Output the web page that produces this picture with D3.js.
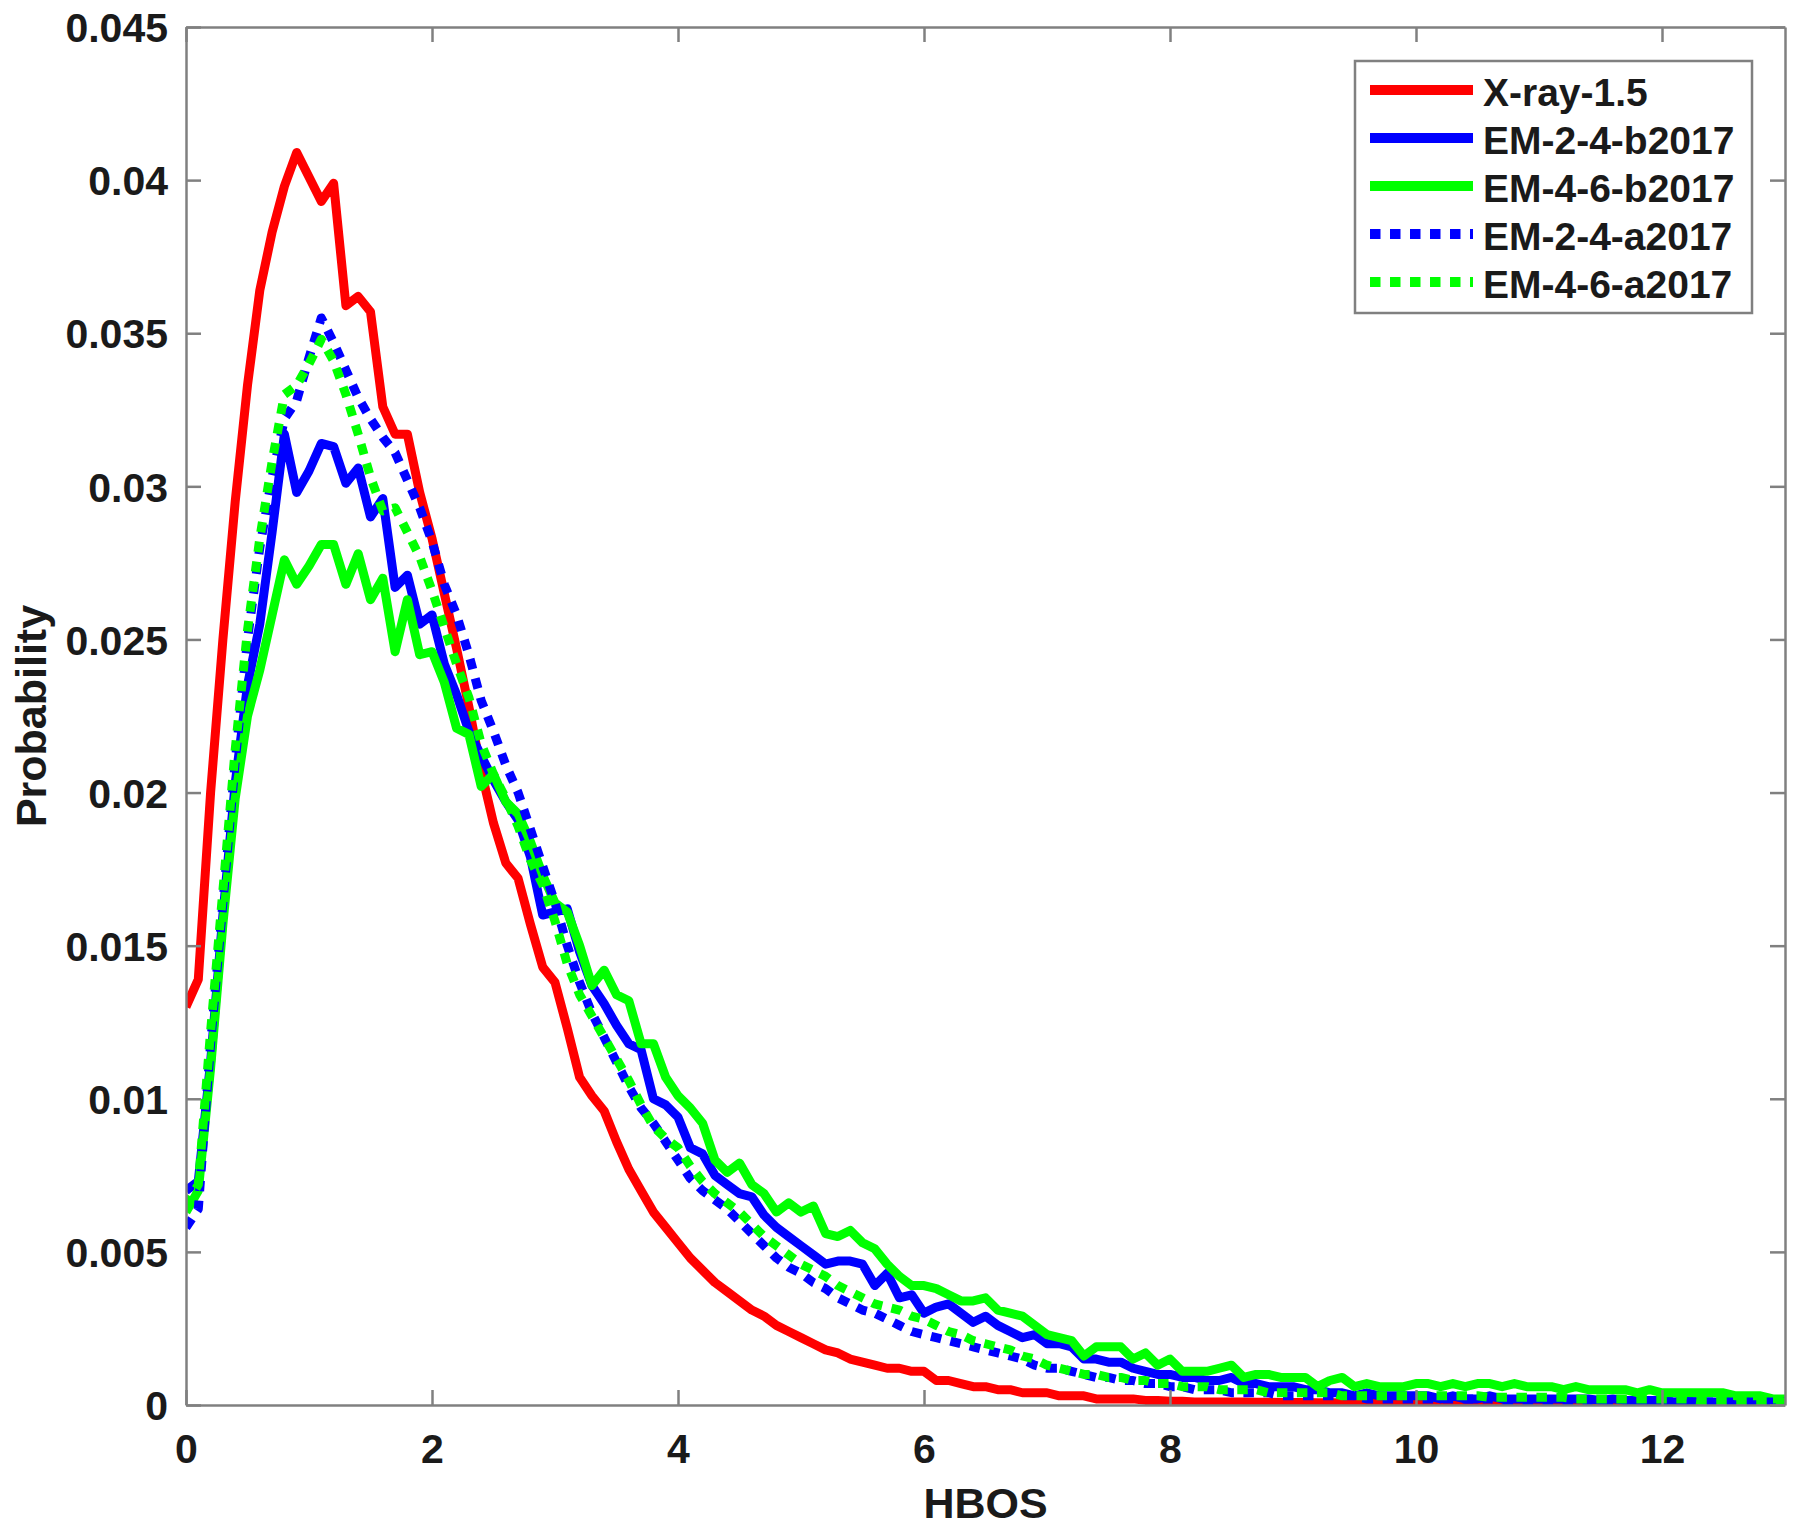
<!DOCTYPE html>
<html>
<head>
<meta charset="utf-8">
<script src="https://cdn.jsdelivr.net/npm/d3@7"></script>
<style>
  html, body { margin: 0; padding: 0; background: #fff; }
  svg text { font-family: "Liberation Sans", Arial, Helvetica, sans-serif; font-weight: bold; fill: #1a1a1a; }
</style>
</head>
<body>
<svg id="chart" width="1800" height="1533"></svg>
<script>
// histogram bins are 0.1 wide, from 0 to 13
const binWidth = 0.1;

const xray15 = [
  0.0130, 0.0139, 0.0200, 0.0250, 0.0295, 0.0333, 0.0364, 0.0383, 0.0398, 0.0409,
  0.0401, 0.0393, 0.0399, 0.0359, 0.0362, 0.0357, 0.0326, 0.0317, 0.0317, 0.0298,
  0.0283, 0.0265, 0.0247, 0.0228, 0.0207, 0.0190, 0.0177, 0.0172, 0.0157, 0.0143,
  0.0138, 0.0123, 0.0107, 0.0101, 0.0096, 0.0086, 0.0077, 0.0070, 0.0063, 0.0058,
  0.0053, 0.0048, 0.0044, 0.0040, 0.0037, 0.0034, 0.0031, 0.0029, 0.0026, 0.0024,
  0.0022, 0.0020, 0.0018, 0.0017, 0.0015, 0.0014, 0.0013, 0.0012, 0.0012, 0.0011,
  0.0011, 0.0008, 0.0008, 0.0007, 0.0006, 0.0006, 0.0005, 0.0005, 0.0004, 0.0004,
  0.0004, 0.0003, 0.0003, 0.0003, 0.0002, 0.0002, 0.0002, 0.0002, 0.00015, 0.00015,
  0.00012, 0.00012, 0.0001, 0.0001, 0.0001, 0.0001, 0.0001, 0.00009, 0.00009, 0.00008,
  0.00008, 0.00008, 0.00007, 0.00007, 0.00007, 0.00006, 0.00006, 0.00006, 0.00006, 0.00005,
  0.00005, 0.00005, 0.00005, 0.00005, 0.00004, 0.00005, 0.00004, 0.00004, 0.00004, 0.00004,
  0.00004, 0.00004, 0.00003, 0.00004, 0.00003, 0.00003, 0.00003, 0.00003, 0.00003, 0.00003,
  0.00003, 0.00002, 0.00003, 0.00002, 0.00002, 0.00002, 0.00002, 0.00002, 0.00002, 0.00002,
  0.00002
];

const em24b = [
  0.0070, 0.0073, 0.0112, 0.0160, 0.0203, 0.0235, 0.0255, 0.0285, 0.0317, 0.0298,
  0.0305, 0.0314, 0.0313, 0.0301, 0.0306, 0.0290, 0.0296, 0.0267, 0.0271, 0.0255,
  0.0258, 0.0242, 0.0232, 0.0220, 0.0212, 0.0204, 0.0197, 0.0191, 0.0179, 0.0160,
  0.0161, 0.0162, 0.0148, 0.0137, 0.0131, 0.0124, 0.0118, 0.0116, 0.0100, 0.0098,
  0.0094, 0.0084, 0.0082, 0.0075, 0.0072, 0.0069, 0.0068, 0.0062, 0.0058, 0.0055,
  0.0052, 0.0049, 0.0046, 0.0047, 0.0047, 0.0046, 0.0039, 0.0043, 0.0035, 0.0036,
  0.0030, 0.0032, 0.0033, 0.0030, 0.0027, 0.0029, 0.0026, 0.0024, 0.0022, 0.0023,
  0.0020, 0.0020, 0.0019, 0.0015, 0.0015, 0.0014, 0.0014, 0.0012, 0.0011, 0.0010,
  0.0010, 0.0009, 0.0009, 0.0008, 0.0008, 0.0009, 0.0007, 0.0007, 0.0006, 0.0006,
  0.0006, 0.0005, 0.0005, 0.0004, 0.0004, 0.0003, 0.0004, 0.0003, 0.0003, 0.0003,
  0.0003, 0.0003, 0.0002, 0.0003, 0.0002, 0.0002, 0.0003, 0.0002, 0.0002, 0.0002,
  0.0002, 0.0002, 0.0002, 0.0002, 0.0002, 0.00015, 0.0002, 0.00015, 0.00015, 0.00015,
  0.00015, 0.0001, 0.00015, 0.0001, 0.0001, 0.0001, 0.0001, 0.0001, 0.0001, 0.0001,
  0.0001
];

const em46b = [
  0.0063, 0.0070, 0.0110, 0.0157, 0.0198, 0.0225, 0.0240, 0.0258, 0.0276, 0.0268,
  0.0274, 0.0281, 0.0281, 0.0268, 0.0278, 0.0263, 0.0270, 0.0246, 0.0263, 0.0245,
  0.0246, 0.0236, 0.0221, 0.0219, 0.0202, 0.0206, 0.0197, 0.0193, 0.0184, 0.0173,
  0.0164, 0.0161, 0.0150, 0.0137, 0.0142, 0.0134, 0.0132, 0.0118, 0.0118, 0.0107,
  0.0101, 0.0097, 0.0092, 0.0080, 0.0076, 0.0079, 0.0072, 0.0069, 0.0063, 0.0066,
  0.0063, 0.0065, 0.0056, 0.0055, 0.0057, 0.0053, 0.0051, 0.0046, 0.0042, 0.0039,
  0.0039, 0.0038, 0.0036, 0.0034, 0.0034, 0.0035, 0.0031, 0.0030, 0.0029, 0.0026,
  0.0023, 0.0022, 0.0021, 0.0016, 0.0019, 0.0019, 0.0019, 0.0015, 0.0017, 0.0013,
  0.0015, 0.0011, 0.0011, 0.0011, 0.0012, 0.0013, 0.0009, 0.0010, 0.0010, 0.0009,
  0.0009, 0.0009, 0.0006, 0.0008, 0.0009, 0.0006, 0.0007, 0.0006, 0.0006, 0.0006,
  0.0007, 0.0007, 0.0006, 0.0007, 0.0006, 0.0007, 0.0007, 0.0006, 0.0007, 0.0006,
  0.0006, 0.0006, 0.0005, 0.0006, 0.0005, 0.0005, 0.0005, 0.0005, 0.0004, 0.0005,
  0.0004, 0.0004, 0.0004, 0.0004, 0.0004, 0.0004, 0.0003, 0.0003, 0.0003, 0.0002,
  0.0002
];

const em24a = [
  0.0058, 0.0064, 0.0118, 0.0164, 0.0210, 0.0250, 0.0280, 0.0303, 0.0322, 0.0328,
  0.0342, 0.0355, 0.0347, 0.0338, 0.0329, 0.0322, 0.0316, 0.0311, 0.0302, 0.0293,
  0.0282, 0.0268, 0.0258, 0.0245, 0.0230, 0.0220, 0.0209, 0.0200, 0.0188, 0.0176,
  0.0164, 0.0150, 0.0138, 0.0128, 0.0120, 0.0112, 0.0104, 0.0097, 0.0092, 0.0086,
  0.0080, 0.0074, 0.0070, 0.0067, 0.0064, 0.0060, 0.0056, 0.0052, 0.0048, 0.0045,
  0.0043, 0.0040, 0.0038, 0.0035, 0.0033, 0.0031, 0.0030, 0.0028, 0.0026, 0.0024,
  0.0023, 0.0022, 0.0021, 0.0020, 0.0019, 0.0018, 0.0017, 0.0016, 0.0015, 0.0013,
  0.0012, 0.0012, 0.0011, 0.0010, 0.0009, 0.0009, 0.0008, 0.0008, 0.0007, 0.0007,
  0.0006, 0.0006, 0.0005, 0.0005, 0.0005, 0.0004, 0.0004, 0.0004, 0.0004, 0.0003,
  0.0003, 0.0003, 0.0003, 0.0003, 0.0003, 0.0003, 0.0002, 0.0002, 0.0002, 0.0002,
  0.0002, 0.0002, 0.0002, 0.0002, 0.0002, 0.0002, 0.0002, 0.00015, 0.00015, 0.00015,
  0.00015, 0.00015, 0.00015, 0.00015, 0.00015, 0.00012, 0.00012, 0.00012, 0.00012, 0.00012,
  0.0001, 0.0001, 0.0001, 0.0001, 0.0001, 0.0001, 0.0001, 0.0001, 0.0001, 0.0001,
  0.0001
];

const em46a = [
  0.0065, 0.0072, 0.0122, 0.0168, 0.0214, 0.0253, 0.0283, 0.0308, 0.0330, 0.0333,
  0.0340, 0.0348, 0.0341, 0.0330, 0.0317, 0.0303, 0.0292, 0.0293, 0.0285, 0.0277,
  0.0266, 0.0254, 0.0242, 0.0231, 0.0216, 0.0206, 0.0198, 0.0189, 0.0178, 0.0170,
  0.0158, 0.0144, 0.0134, 0.0127, 0.0120, 0.0113, 0.0106, 0.0098, 0.0091, 0.0087,
  0.0084, 0.0078, 0.0073, 0.0069, 0.0066, 0.0063, 0.0059, 0.0055, 0.0052, 0.0049,
  0.0046, 0.0044, 0.0042, 0.0039, 0.0037, 0.0035, 0.0033, 0.0032, 0.0031, 0.0029,
  0.0028, 0.0026, 0.0024, 0.0023, 0.0021, 0.0020, 0.0019, 0.0018, 0.0016, 0.0015,
  0.0013, 0.0012, 0.0011, 0.0010, 0.0010, 0.0009, 0.0009, 0.0008, 0.0008, 0.0007,
  0.0007, 0.0006, 0.0006, 0.0006, 0.0005, 0.0005, 0.0005, 0.0005, 0.0004, 0.0004,
  0.0004, 0.0004, 0.0004, 0.0004, 0.0003, 0.0003, 0.0003, 0.0003, 0.0003, 0.0003,
  0.0003, 0.0003, 0.0003, 0.0003, 0.0003, 0.0003, 0.00025, 0.00025, 0.00025, 0.00025,
  0.00025, 0.00025, 0.00025, 0.0002, 0.0002, 0.0002, 0.0002, 0.0002, 0.0002, 0.0002,
  0.0002, 0.0002, 0.0002, 0.00015, 0.00015, 0.00015, 0.00015, 0.00015, 0.00015, 0.00015,
  0.0001
];

const seriesNames = ["X-ray-1.5", "EM-2-4-b2017", "EM-4-6-b2017", "EM-2-4-a2017", "EM-4-6-a2017"];
const seriesColors = ["#ff0000", "#0000ff", "#00ff00", "#0000ff", "#00ff00"];
const seriesDotted = [false, false, false, true, true];
const seriesValues = [xray15, em24b, em46b, em24a, em46a];

const xTicks = [0, 2, 4, 6, 8, 10, 12];
const yTicks = [0, 0.005, 0.01, 0.015, 0.02, 0.025, 0.03, 0.035, 0.04, 0.045];

const margin = { left: 186, right: 15, top: 27, bottom: 128 };
const width = 1800, height = 1533;
const axisColor = "#808080";
const tickLen = 15;

const svg = d3.select("#chart");

const x = d3.scaleLinear().domain([0, 13]).range([margin.left, width - margin.right]);
const y = d3.scaleLinear().domain([0, 0.045]).range([height - margin.bottom, margin.top]);

svg.append("defs").append("clipPath").attr("id", "plotClip")
  .append("rect")
  .attr("x", x(0)).attr("y", y(0.045))
  .attr("width", x(13) - x(0)).attr("height", y(0) - y(0.045));

// the curves, drawn in the same order as the legend (dotted ones on top)
const line = d3.line()
  .x((d, i) => x(i * binWidth))
  .y(d => y(d));

const curves = svg.append("g").attr("clip-path", "url(#plotClip)");
curves.selectAll("path")
  .data(seriesValues)
  .join("path")
  .attr("d", d => line(d))
  .attr("fill", "none")
  .attr("stroke", (d, i) => seriesColors[i])
  .attr("stroke-width", 9)
  .attr("stroke-linejoin", "round")
  .attr("stroke-dasharray", (d, i) => seriesDotted[i] ? "10.5,9.5" : null);

// axes, ticks point inward on all four sides
const fmtY = v => v === 0 ? "0" : d3.format("")(+v.toFixed(3));

const xBottom = svg.append("g")
  .attr("transform", `translate(0,${y(0)})`)
  .call(d3.axisBottom(x).tickValues(xTicks).tickSizeInner(-tickLen).tickSizeOuter(0).tickPadding(0).tickFormat(d3.format("d")));
const xTop = svg.append("g")
  .attr("transform", `translate(0,${y(0.045)})`)
  .call(d3.axisTop(x).tickValues(xTicks).tickSizeInner(-tickLen).tickSizeOuter(0).tickFormat(""));
const yLeft = svg.append("g")
  .attr("transform", `translate(${x(0)},0)`)
  .call(d3.axisLeft(y).tickValues(yTicks).tickSizeInner(-tickLen).tickSizeOuter(0).tickPadding(0).tickFormat(fmtY));
const yRight = svg.append("g")
  .attr("transform", `translate(${x(13)},0)`)
  .call(d3.axisRight(y).tickValues(yTicks).tickSizeInner(-tickLen).tickSizeOuter(0).tickFormat(""));

[xBottom, xTop, yLeft, yRight].forEach(g => {
  g.select(".domain").attr("stroke", axisColor).attr("stroke-width", 2.5);
  g.selectAll(".tick line").attr("stroke", axisColor).attr("stroke-width", 2.5);
});

xBottom.selectAll(".tick text")
  .attr("font-size", 41)
  .attr("fill", "#1a1a1a")
  .attr("dy", null)
  .attr("y", 58);
yLeft.selectAll(".tick text")
  .attr("font-size", 41)
  .attr("fill", "#1a1a1a")
  .attr("x", -18)
  .attr("dy", "0.36em");

// axis titles
svg.append("text")
  .attr("x", (x(0) + x(13)) / 2)
  .attr("y", 1518)
  .attr("text-anchor", "middle")
  .attr("font-size", 43)
  .text("HBOS");

svg.append("text")
  .attr("transform", `translate(46,${(y(0) + y(0.045)) / 2}) rotate(-90)`)
  .attr("text-anchor", "middle")
  .attr("font-size", 43)
  .text("Probability");

// legend
const legend = svg.append("g").attr("transform", "translate(1355,61)");
legend.append("rect")
  .attr("width", 397).attr("height", 252)
  .attr("fill", "#fff")
  .attr("stroke", axisColor)
  .attr("stroke-width", 2.5);

const rows = legend.selectAll("g.row")
  .data(seriesNames)
  .join("g")
  .attr("class", "row")
  .attr("transform", (d, i) => `translate(0,${29 + i * 48})`);

rows.append("line")
  .attr("x1", 15).attr("x2", 118)
  .attr("y1", 0).attr("y2", 0)
  .attr("stroke", (d, i) => seriesColors[i])
  .attr("stroke-width", 10)
  .attr("stroke-dasharray", (d, i) => seriesDotted[i] ? "10.5,9.5" : null);

rows.append("text")
  .attr("x", 128)
  .attr("y", 16)
  .attr("font-size", 39)
  .text(d => d);
</script>
</body>
</html>
